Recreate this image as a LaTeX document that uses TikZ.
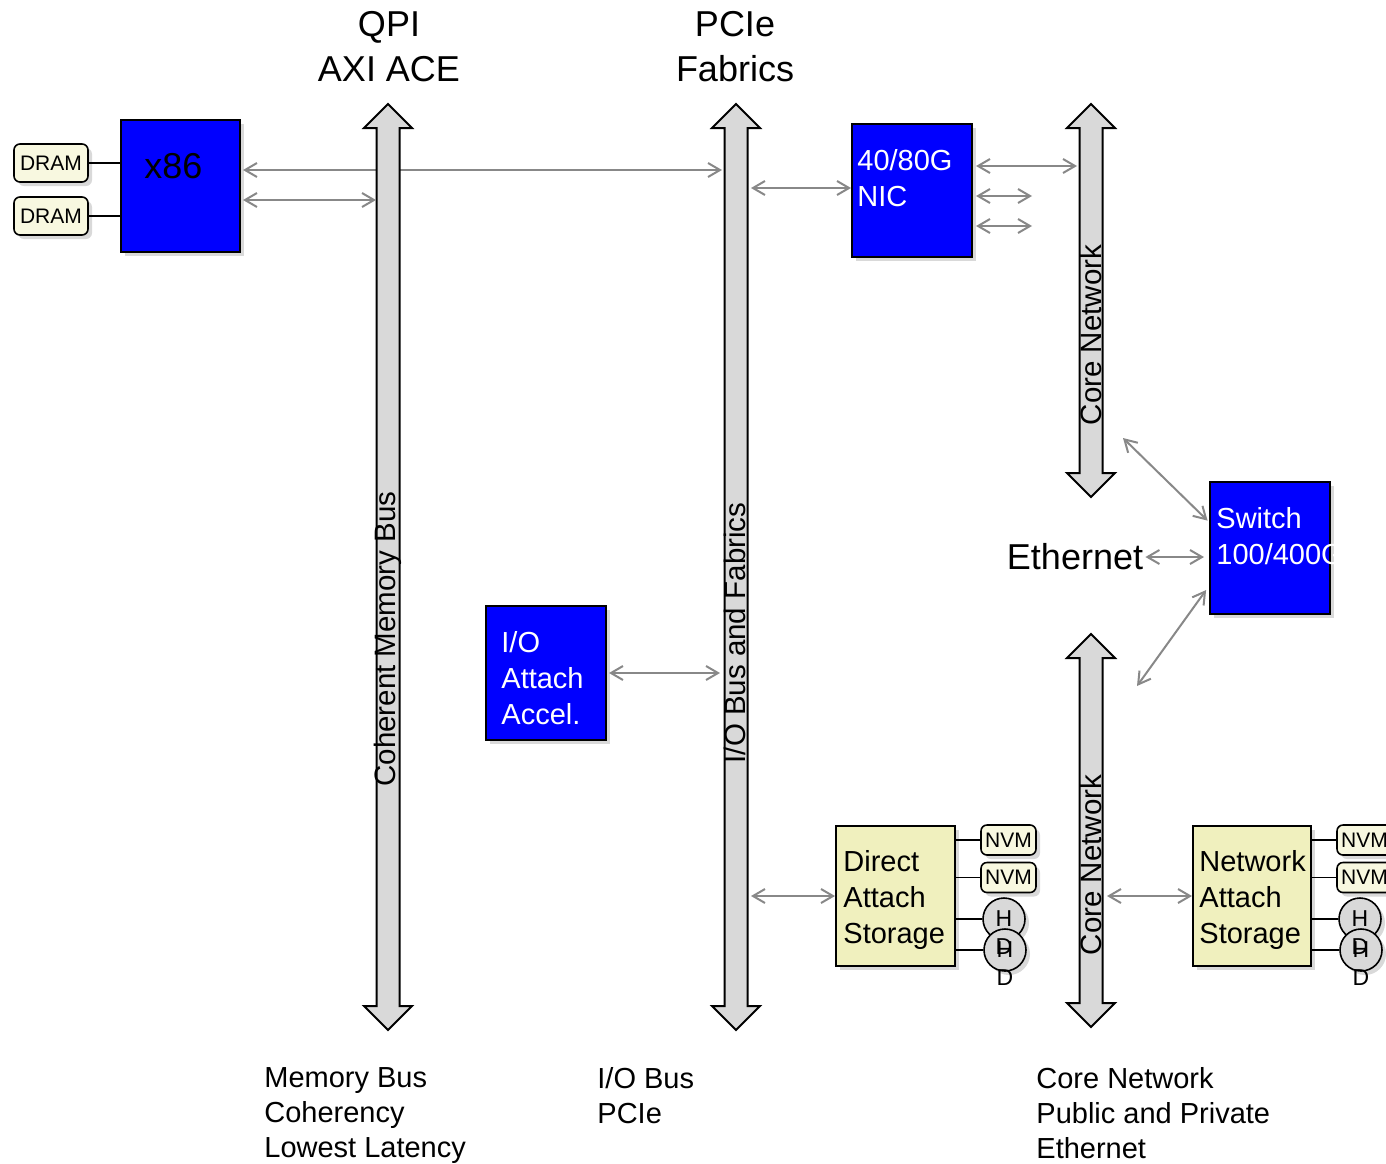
\documentclass[tikz,border=0pt]{standalone}
\usepackage{fontspec}
\setmainfont{Liberation Sans}
\usepackage{xcolor}
\usepackage{tikz}
\usetikzlibrary{arrows.meta,shadows}
\definecolor{busgray}{RGB}{217,217,217}
\definecolor{linkgray}{RGB}{136,136,136}
\definecolor{chipblue}{RGB}{0,0,255}
\definecolor{storefill}{RGB}{240,240,190}
\definecolor{memfill}{RGB}{248,248,224}
% vertical double arrow: x, top, bottom
\newcommand{\busarrow}[3]{%
  \draw[bus] ({#1-11.5},{#2+24}) -- ({#1-24},{#2+24}) -- (#1,#2) -- ({#1+24},{#2+24})
    -- ({#1+11.5},{#2+24}) -- ({#1+11.5},{#3-24}) -- ({#1+24},{#3-24}) -- (#1,#3)
    -- ({#1-24},{#3-24}) -- ({#1-11.5},{#3-24}) -- cycle;}

\begin{document}
\begin{tikzpicture}[
  x=0.5pt,y=-0.5pt,
  shade/.style={drop shadow={opacity=0.3,shadow xshift=2pt,shadow yshift=-2pt}},
  chip/.style={rectangle,draw=black,line width=1pt,fill=chipblue,shade},
  store/.style={rectangle,draw=black,line width=1pt,fill=storefill,shade},
  memchip/.style={rectangle,rounded corners=3pt,draw=black,line width=0.8pt,fill=memfill,
                  inner sep=0pt,font=\fontsize{10.5pt}{12pt}\selectfont,shade},
  hdd/.style={circle,draw=black,line width=0.8pt,fill=busgray,minimum size=21pt,inner sep=0pt,shade},
  hddtext/.style={inner sep=0pt,align=center,font=\fontsize{11.5pt}{14pt}\selectfont},
  boxtext/.style={inner sep=0pt,align=left,anchor=west,font=\fontsize{14.5pt}{18pt}\selectfont},
  title/.style={inner sep=0pt,align=center,anchor=north,font=\fontsize{18pt}{22.5pt}\selectfont},
  note/.style={inner sep=0pt,align=left,anchor=north west,font=\fontsize{14.5pt}{17.5pt}\selectfont},
  buslabel/.style={inner sep=0pt,rotate=90,font=\fontsize{14.75pt}{16pt}\selectfont},
  bus/.style={draw=black,line width=1pt,fill=busgray},
  wire/.style={draw=black,line width=0.8pt},
  link/.style={{Straight Barb[length=6pt,width=7pt]}-{Straight Barb[length=6pt,width=7pt]},
               draw=linkgray,line width=1pt}
]
\useasboundingbox (0,0) rectangle (1386,1163);

% bus ends
\coordinate (io-x86) at (722,170);
\coordinate (mem-x86) at (376,200);
\coordinate (io-nic) at (751,188);
\coordinate (core-nic) at (1077,166);
\coordinate (nic-a) at (1032,196);
\coordinate (nic-b) at (1032,226);
\coordinate (core-up) at (1123,438);
\coordinate (core-dn) at (1137,686);
\coordinate (io-acc) at (720,673);
\coordinate (io-das) at (751,896);
\coordinate (core-nas) at (1107,896);

\node[chip,minimum width=59.5pt,minimum height=66pt] (x86) at (180.5,186) {};
\node[inner sep=0pt,anchor=west,font=\fontsize{18pt}{22pt}\selectfont] (x86-t) at ([xshift=12pt,yshift=10pt]x86.west) {x86};
\node[memchip,minimum width=37pt,minimum height=19pt] (dram1) at (51,163) {DRAM};
\node[memchip,minimum width=37pt,minimum height=19pt] (dram2) at (51,216) {DRAM};
\draw[wire] (dram1.east) -- (dram1.east -| x86.west);
\draw[wire] (dram2.east) -- (dram2.east -| x86.west);

% this one runs behind the memory bus
\draw[link,shorten <=1pt] (io-x86 -| x86.east) -- (io-x86);

\busarrow{388}{104}{1030}
\busarrow{736}{104}{1030}
\busarrow{1091}{104}{497}
\busarrow{1091}{634}{1027}

\node[buslabel] (mem-l) at (388,639) {Coherent Memory Bus};
\node[buslabel] (io-l) at (735,633) {I/O Bus and Fabrics};
\node[buslabel] (core-l1) at (1091,335) {Core Network};
\node[buslabel] (core-l2) at (1091,865) {Core Network};

\node[title] (qpi) at (389,11) {QPI\\AXI ACE};
\node[title] (pcie) at (735,11) {PCIe\\Fabrics};

\node[chip,minimum width=60pt,minimum height=66.5pt] (nic) at (912,190.5) {};
\node[boxtext,text=white] (nic-t) at ([xshift=3pt,yshift=6.25pt]nic.west) {40/80G\\NIC};
\node[chip,minimum width=60pt,minimum height=66pt] (switch) at (1270,548) {};
\node[boxtext,text=white] (switch-t) at ([xshift=3.5pt,yshift=6pt]switch.west) {Switch\\100/400G};
\node[chip,minimum width=60pt,minimum height=67pt] (accel) at (546,673) {};
\node[boxtext,text=white] (accel-t) at ([xshift=8pt,yshift=-2.5pt]accel.west) {I/O\\Attach\\Accel.};
\node[inner sep=0pt,font=\fontsize{18pt}{22pt}\selectfont] (eth) at (1075,557) {Ethernet};

\draw[link,shorten <=1pt] (mem-x86 -| x86.east) -- (mem-x86);
\draw[link] (io-nic) -- (io-nic -| nic.west);
\draw[link,shorten <=1.5pt] (core-nic -| nic.east) -- (core-nic);
\draw[link,shorten <=1.5pt] (nic-a -| nic.east) -- (nic-a);
\draw[link,shorten <=1.5pt] (nic-b -| nic.east) -- (nic-b);
\draw[link,shorten >=1pt] (core-up) -- ([yshift=13pt]switch.west);
\draw[link,shorten <=1pt,shorten >=2.5pt] (eth.east) -- (eth.east -| switch.west);
\draw[link,shorten >=2.5pt] (core-dn) -- ([yshift=-19pt]switch.west);
\draw[link,shorten <=1pt] (accel.east) -- (io-acc);

% storage
\node[store,minimum width=59.5pt,minimum height=70pt] (das) at (895.5,896) {};
\node[boxtext] (das-t) at ([xshift=4pt,yshift=-2pt]das.west) {Direct\\Attach\\Storage};
\node[store,minimum width=59pt,minimum height=70pt] (nas) at (1252,896) {};
\node[boxtext] (nas-t) at ([xshift=3.5pt,yshift=-2pt]nas.west) {Network\\Attach\\Storage};
\draw[link] (io-das) -- (das.west);
\draw[link] (core-nas) -- (nas.west);

\node[memchip,minimum width=27.5pt,minimum height=15pt] (nvm1) at (1008.5,840) {NVM};
\node[memchip,minimum width=27.5pt,minimum height=15pt] (nvm2) at (1008.5,877.5) {NVM};
\node[memchip,minimum width=27.5pt,minimum height=15pt] (nvm3) at (1364.5,840) {NVM};
\node[memchip,minimum width=27.5pt,minimum height=15pt] (nvm4) at (1364.5,877.5) {NVM};
\node[hdd] (hdd1) at (1004,919) {};
\node[hdd] (hdd2) at (1005,950) {};
\node[hdd] (hdd3) at (1360,919) {};
\node[hdd] (hdd4) at (1361,950) {};
\draw[wire] (das.east |- nvm1.west) -- (nvm1.west);
\draw[wire] (das.east |- nvm2.west) -- (nvm2.west);
\draw[wire] (nas.east |- nvm3.west) -- (nvm3.west);
\draw[wire] (nas.east |- nvm4.west) -- (nvm4.west);
\draw[wire] (das.east |- hdd1.west) -- (hdd1.west);
\draw[wire] (das.east |- hdd2.west) -- (hdd2.west);
\draw[wire] (nas.east |- hdd3.west) -- (hdd3.west);
\draw[wire] (nas.east |- hdd4.west) -- (hdd4.west);
\foreach \h in {1,...,4}
  \node[hddtext,anchor=north] (hdd\h-t) at ([yshift=4.5pt]hdd\h.center) {H\\D};

% notes under the buses
\node[note] (mem-n) at (264,1067.5) {Memory Bus\\Coherency\\Lowest Latency};
\node[note] (io-n) at (597,1067.5) {I/O Bus\\PCIe};
\node[note] (core-n) at (1036,1067.5) {Core Network\\Public and Private\\Ethernet};
\end{tikzpicture}
\end{document}
